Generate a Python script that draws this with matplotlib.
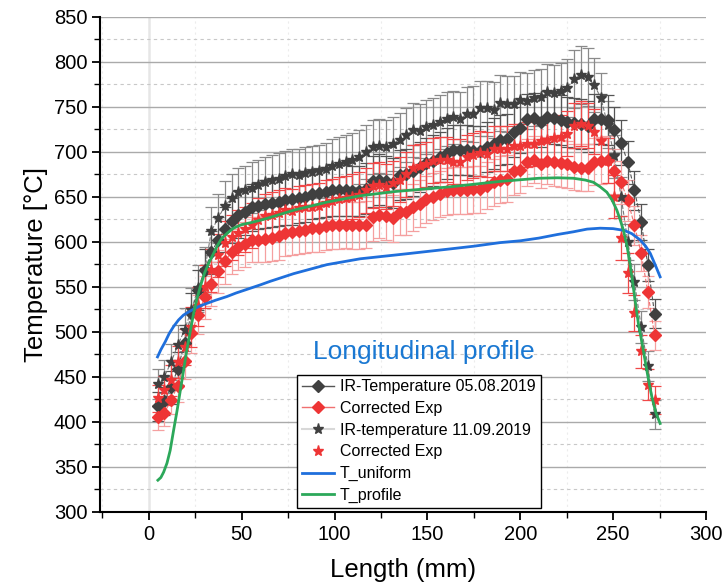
import matplotlib
matplotlib.use("Agg")
import matplotlib.pyplot as plt
from matplotlib.lines import Line2D
from matplotlib.ticker import MultipleLocator

plt.rcParams['font.family'] = ['Liberation Sans', 'DejaVu Sans']

# measurement positions along the length (mm)
length = [4.8, 8.4, 12.0, 15.6, 19.3, 22.9, 26.5, 30.1, 33.7, 37.3,
          41.0, 44.6, 48.2, 51.8, 55.4, 59.0, 62.6, 66.3, 69.9, 73.5,
          77.1, 80.7, 84.3, 88.0, 91.6, 95.2, 98.8, 102.4, 106.0, 109.6,
          113.3, 116.9, 120.5, 124.1, 127.7, 131.3, 135.0, 138.6, 142.2, 145.8,
          149.4, 153.0, 156.6, 160.3, 163.9, 167.5, 171.1, 174.7, 178.3, 181.9,
          185.6, 189.2, 192.8, 196.4, 200.0, 203.6, 207.3, 210.9, 214.5, 218.1,
          221.7, 225.3, 228.9, 232.6, 236.2, 239.8, 243.4, 247.0, 250.6, 254.3,
          257.9, 261.5, 265.1, 268.7, 272.3]

# IR-Temperature 05.08.2019
ir_0508 = [417, 423, 438, 459, 487, 521, 546, 568, 588, 602,
           614, 623, 630, 633, 638, 640, 642, 643, 644, 646,
           647, 649, 650, 653, 654, 655, 657, 657, 657, 656,
           656, 659, 667, 669, 667, 665, 674, 675, 679, 683,
           687, 690, 694, 698, 702, 702, 702, 701, 701, 705,
           709, 713, 714, 722, 726, 736, 737, 733, 739, 737,
           735, 733, 732, 731, 728, 736, 736, 735, 724, 710,
           688, 657, 622, 574, 520]
ir_0508_err = [16, 16, 18, 18, 20, 22, 22, 24, 24, 25,
               25, 25, 26, 26, 26, 26, 27, 27, 27, 27,
               28, 28, 28, 28, 28, 28, 28, 28, 28, 28,
               28, 28, 28, 28, 28, 28, 28, 28, 28, 28,
               28, 28, 28, 28, 28, 28, 28, 28, 28, 28,
               28, 28, 28, 28, 28, 28, 28, 28, 28, 28,
               28, 28, 28, 28, 28, 28, 28, 28, 26, 25,
               24, 22, 20, 18, 16]

# Corrected Exp (05.08.2019)
corr_0508 = [405, 410, 424, 440, 467, 498, 519, 538, 553, 567,
             578, 589, 594, 597, 602, 602, 603, 604, 606, 610,
             611, 612, 613, 615, 615, 617, 618, 618, 619, 618,
             618, 619, 627, 630, 628, 626, 633, 633, 638, 642,
             647, 650, 653, 656, 657, 657, 657, 658, 658, 662,
             666, 669, 670, 678, 680, 688, 691, 686, 690, 688,
             687, 686, 683, 682, 682, 689, 690, 691, 678, 666,
             646, 618, 587, 544, 496]
corr_0508_err = [14, 15, 16, 18, 20, 22, 22, 24, 24, 24,
                 25, 25, 25, 25, 25, 25, 26, 26, 26, 26,
                 26, 26, 26, 26, 26, 26, 26, 26, 26, 26,
                 26, 26, 26, 26, 26, 26, 26, 26, 26, 26,
                 26, 26, 26, 26, 26, 26, 26, 26, 26, 26,
                 26, 26, 26, 26, 26, 26, 26, 26, 26, 26,
                 26, 26, 26, 26, 26, 26, 26, 26, 25, 24,
                 23, 22, 20, 18, 16]

# IR-temperature 11.09.2019
ir_1109 = [442, 450, 466, 485, 502, 524, 548, 568, 612, 626,
           640, 648, 655, 657, 660, 663, 666, 668, 670, 673,
           675, 674, 676, 677, 678, 681, 684, 686, 688, 691,
           694, 700, 705, 706, 705, 709, 713, 719, 724, 723,
           727, 730, 733, 736, 738, 736, 742, 742, 748, 748,
           746, 754, 753, 753, 758, 756, 760, 761, 766, 765,
           767, 771, 781, 785, 783, 774, 760, 730, 695, 650,
           600, 555, 505, 462, 408]
ir_1109_err = [17, 18, 20, 22, 24, 25, 26, 26, 27, 27,
               27, 27, 27, 27, 28, 28, 28, 28, 28, 28,
               28, 29, 29, 29, 29, 29, 30, 30, 30, 30,
               30, 30, 30, 30, 30, 30, 30, 30, 30, 30,
               30, 30, 30, 30, 30, 30, 30, 31, 31, 31,
               31, 31, 31, 31, 31, 31, 31, 31, 31, 31,
               32, 32, 32, 32, 32, 30, 28, 26, 24, 22,
               20, 20, 18, 17, 16]

# Corrected Exp (11.09.2019)
corr_1109 = [426, 435, 446, 466, 483, 505, 528, 550, 568, 585,
             598, 605, 610, 614, 618, 624, 628, 630, 632, 635,
             634, 637, 638, 639, 640, 643, 645, 647, 648, 650,
             652, 657, 662, 663, 661, 665, 669, 675, 682, 684,
             686, 690, 691, 691, 689, 689, 694, 696, 698, 697,
             703, 703, 703, 706, 706, 708, 709, 712, 713, 715,
             716, 720, 729, 731, 729, 722, 712, 690, 650, 604,
             565, 521, 478, 441, 424]
corr_1109_err = [15, 16, 17, 18, 20, 22, 22, 24, 24, 24,
                 25, 25, 25, 25, 25, 25, 25, 25, 25, 25,
                 25, 25, 25, 25, 25, 25, 25, 25, 25, 25,
                 25, 25, 25, 25, 25, 25, 25, 25, 25, 25,
                 25, 25, 25, 25, 25, 25, 25, 25, 25, 25,
                 25, 25, 25, 25, 25, 25, 25, 25, 25, 25,
                 25, 25, 25, 25, 25, 25, 25, 25, 24, 24,
                 22, 20, 18, 17, 16]

# simulated profiles
uni_x = [4.7, 6.5, 8.9, 11.0, 13.3, 16.0, 18.7, 21.5, 24.1, 27.5,
         31.3, 36.0, 42.0, 47.0, 52.8, 60.0, 65.4, 78.0, 95.9, 113.8,
         131.8, 140.7, 162.3, 175.0, 189.2, 200.0, 210.0, 220.0, 228.6, 236.0,
         243.0, 250.0, 256.0, 260.0, 264.5, 267.5, 270.0, 272.5, 275.3]
uni_t = [472, 480, 489, 498, 505.6, 513, 518.5, 522, 525, 528.5,
         531.5, 535, 539, 543, 547, 552, 556, 564.5, 574.5, 581,
         585, 587, 592, 595, 599, 601, 604, 608, 611, 614,
         615, 614.5, 612.5, 609, 602, 595, 587, 575, 561]

prof_x = [4.9, 6.5, 8.0, 9.8, 11.5, 13.4, 15.2, 17.0, 18.8, 20.5,
          22.3, 24.1, 26.0, 27.7, 30.0, 32.2, 34.9, 37.0, 39.4, 42.5,
          45.6, 50.0, 54.6, 60.3, 65.4, 78.0, 96.0, 113.8, 131.8, 162.3,
          189.2, 210.0, 220.0, 228.6, 235.0, 239.4, 243.0, 246.6, 249.5, 252.0,
          254.0, 255.5, 257.5, 259.0, 260.5, 261.8, 263.6, 265.5, 267.2, 269.0,
          270.8, 273.0, 275.3]
prof_t = [335, 338, 344, 354, 368, 391, 412, 435, 458, 480,
          500, 520, 537, 550, 565, 576, 587, 596, 604, 610,
          615, 619, 621, 624, 627, 635, 644, 651, 655.6, 661,
          667, 670.5, 671, 670.5, 668.5, 666, 661, 655, 646, 635,
          623, 613, 595, 576, 555, 535, 509, 488, 468, 447,
          428, 410, 398]

dark = '#404040'
red = '#ee3535'

fig = plt.figure(figsize=(7.23, 5.86), dpi=100)
ax = fig.add_axes([0.139, 0.1268, 0.8375, 0.8447])

# error bars
ax.errorbar(length, ir_1109, yerr=ir_1109_err, fmt='none', ecolor='#8a8a8a',
            elinewidth=0.9, capsize=4.5, capthick=0.9, zorder=2)
ax.errorbar(length, ir_0508, yerr=ir_0508_err, fmt='none', ecolor='#555555',
            elinewidth=0.9, capsize=4.5, capthick=0.9, zorder=2)
ax.errorbar(length, corr_0508, yerr=corr_0508_err, fmt='none', ecolor='#f5a0a0',
            elinewidth=0.9, capsize=4.5, capthick=0.9, zorder=2)
ax.errorbar(length, corr_1109, yerr=corr_1109_err, fmt='none', ecolor='#f04848',
            elinewidth=0.9, capsize=4.5, capthick=0.9, zorder=2)

# data lines and markers
ax.plot(length, ir_1109, ls='--', lw=0.8, color='#7a7a7a', zorder=3)
ax.plot(length, ir_0508, ls='--', lw=0.8, color='#555555', zorder=3)
ax.plot(length, corr_0508, ls='--', lw=0.8, color='#f07070', zorder=3)
ax.plot(length, ir_0508, ls='none', marker='D', ms=6.5, color=dark, zorder=4)
ax.plot(length, corr_0508, ls='none', marker='D', ms=6.5, color=red, zorder=4)
ax.plot(length, ir_1109, ls='none', marker='*', ms=8, color=dark, zorder=4)
ax.plot(length, corr_1109, ls='none', marker='*', ms=8, color=red, zorder=4)

ax.plot(uni_x, uni_t, color='#1f6fdc', lw=2, zorder=5)
ax.plot(prof_x, prof_t, color='#2ca85a', lw=2, zorder=5)

ax.text(148, 477, 'Longitudinal profile', color='#1a78d2', fontsize=19,
        ha='center', va='center')

ax.set_xlim(-26, 300)
ax.set_ylim(300, 850)
ax.xaxis.set_major_locator(MultipleLocator(50))
ax.xaxis.set_minor_locator(MultipleLocator(25))
ax.yaxis.set_major_locator(MultipleLocator(50))
ax.yaxis.set_minor_locator(MultipleLocator(25))

ax.grid(True, which='major', axis='y', color='#aaaaaa', lw=1.0, zorder=0)
ax.grid(True, which='minor', axis='y', color='#c8c8c8', lw=0.8, ls=(0, (3, 3)), zorder=0)
ax.grid(True, which='minor', axis='x', color='#ececec', lw=0.8, ls=(0, (2, 3)), zorder=0)
ax.axvline(0, color='#e6e6e6', lw=1.8, zorder=0)
ax.set_axisbelow(True)

for side in ['top', 'right']:
    ax.spines[side].set_visible(False)
for side in ['left', 'bottom']:
    ax.spines[side].set_linewidth(1.5)

ax.tick_params(which='major', direction='out', length=6, width=1.3, labelsize=14.5)
ax.tick_params(which='minor', direction='out', length=4, width=1.0)

ax.set_xlabel('Length (mm)', fontsize=18.5, labelpad=10)
ax.set_ylabel('Temperature [°C]', fontsize=18.5, labelpad=4)

handles = [
    Line2D([], [], color='#555555', lw=1, marker='D', ms=6, mfc=dark, mec=dark),
    Line2D([], [], color='#f07070', lw=1, marker='D', ms=6, mfc=red, mec=red),
    Line2D([], [], color='#d8d8d8', lw=1.5, marker='*', ms=8, mfc=dark, mec=dark),
    Line2D([], [], ls='none', marker='*', ms=8, mfc=red, mec=red),
    Line2D([], [], color='#1f6fdc', lw=2),
    Line2D([], [], color='#2ca85a', lw=2),
]
labels = ['IR-Temperature 05.08.2019', 'Corrected Exp', 'IR-temperature 11.09.2019',
          'Corrected Exp', 'T_uniform', 'T_profile']
leg = ax.legend(handles, labels, loc='lower left', bbox_to_anchor=(0.3245, 0.0075),
                fontsize=11.5, frameon=True, fancybox=False, framealpha=1,
                edgecolor='black', handlelength=2.0, handletextpad=0.4,
                labelspacing=0.42, borderpad=0.3, borderaxespad=0)
leg.get_frame().set_linewidth(1.0)
leg.set_zorder(6)

fig.savefig('out.png', dpi=100)
